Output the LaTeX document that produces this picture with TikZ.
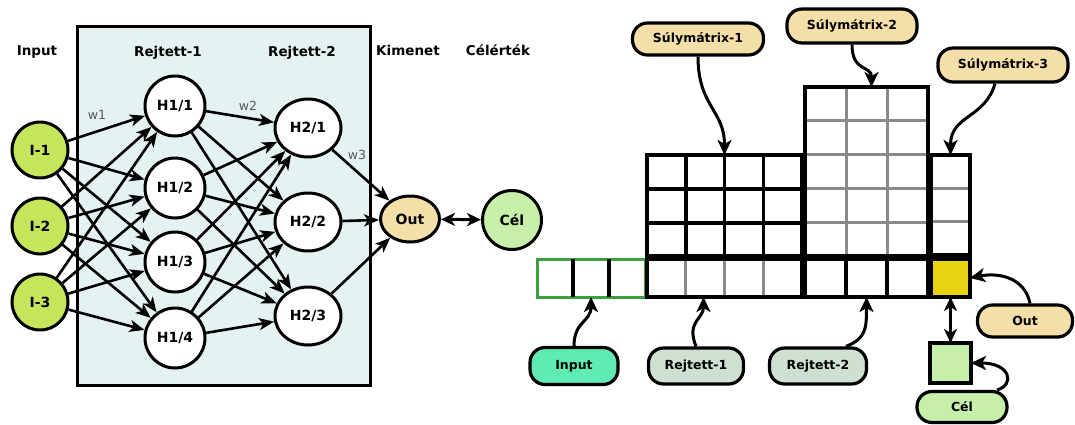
\documentclass[tikz,border=0pt]{standalone}
\usepackage{fontspec}
\setsansfont{DejaVu Sans}
\usetikzlibrary{arrows.meta, calc, shapes.geometric}

\definecolor{inputgreen}{RGB}{197,230,90}
\definecolor{outtan}{RGB}{245,223,168}
\definecolor{celgreen}{RGB}{198,240,170}
\definecolor{hiddenbg}{RGB}{228,242,242}
\definecolor{pillteal}{RGB}{94,235,180}
\definecolor{pillsage}{RGB}{205,224,210}
\definecolor{cellyellow}{RGB}{232,210,20}
\definecolor{gridgray}{RGB}{138,138,138}
\definecolor{stripgreen}{RGB}{60,160,60}

\begin{document}
\begin{tikzpicture}[
  x=1pt, y=-1pt,
  font=\sffamily\bfseries\fontsize{13.5}{15}\selectfont,
  hidbox/.style={draw, line width=3pt, fill=hiddenbg,
                 minimum width=293pt, minimum height=359pt},
  inp/.style={circle, draw, line width=3pt, fill=inputgreen,
              minimum size=56pt, inner sep=0pt, font=\sffamily\bfseries\fontsize{14}{16}\selectfont},
  neuron/.style={circle, draw, line width=3pt, fill=white,
                 minimum size=60pt, inner sep=0pt, font=\sffamily\bfseries\fontsize{14}{16}\selectfont},
  neuron2/.style={ellipse, draw, line width=3pt, fill=white,
                  minimum width=66pt, minimum height=58pt, inner sep=0pt,
                  font=\sffamily\bfseries\fontsize{14}{16}\selectfont},
  outn/.style={ellipse, draw, line width=3pt, fill=outtan,
               minimum width=59pt, minimum height=46pt, inner sep=0pt,
               font=\sffamily\bfseries\fontsize{14}{16}\selectfont},
  celn/.style={circle, draw, line width=3pt, fill=celgreen,
               minimum size=59pt, inner sep=0pt, font=\sffamily\bfseries\fontsize{14}{16}\selectfont},
  hdr/.style={inner sep=0pt},
  wlbl/.style={font=\sffamily\fontsize{12.5}{14}\selectfont, text=black!65, inner sep=0pt},
  pill/.style={draw, line width=3.2pt, rounded corners=15pt, inner sep=0pt,
               font=\sffamily\bfseries\fontsize{12.5}{14}\selectfont},
  cellbox/.style={draw, line width=3.5pt, fill=white, inner sep=0pt, outer sep=0pt},
  arrow/.style={-{Stealth[length=15pt, width=12pt, inset=4pt]}, line width=2.6pt},
  dblarrow/.style={{Stealth[length=14pt, width=13pt, inset=4pt]}-{Stealth[length=14pt, width=13pt, inset=4pt]},
                   line width=3pt},
  curvy/.style={-{Stealth[length=15pt, width=14pt, inset=4pt]}, line width=3pt},
  blackline/.style={line width=3.5pt},
  grayline/.style={line width=3pt, draw=gridgray, shorten <=1.8pt, shorten >=1.8pt}
]
\useasboundingbox (0,0) rectangle (1075,424);

% Network view
\node[hidbox] (hidden) at (223.5,205.5) {};

\node[hdr] (hinput) at (37,52) {Input};
\node[hdr] (hrej1) at (168,53) {Rejtett-1};
\node[hdr] (hrej2) at (302,53) {Rejtett-2};
\node[hdr] (hkim) at (408,50) {Kimenet};
\node[hdr] (hcel) at (498,50) {Célérték};

\node[inp] (i1) at (40,150) {I-1};
\node[inp] (i2) at (40,226) {I-2};
\node[inp] (i3) at (40,302) {I-3};

\node[neuron] (h11) at (175,106) {H1/1};
\node[neuron] (h12) at (175,188) {H1/2};
\node[neuron] (h13) at (175,262) {H1/3};
\node[neuron] (h14) at (175,338) {H1/4};

\node[neuron2] (h21) at (308,128) {H2/1};
\node[neuron2] (h22) at (308,222) {H2/2};
\node[neuron2] (h23) at (308,316) {H2/3};

\node[outn] (out) at (410,219) {Out};
\node[celn] (cel) at (512,220) {Cél};

\foreach \a in {1,2,3}
  \foreach \b in {1,...,4}
    \draw[arrow] (i\a) -- (h1\b);
\foreach \a in {1,...,4}
  \foreach \b in {1,2,3}
    \draw[arrow] (h1\a) -- (h2\b);
\foreach \a in {1,2,3}
  \draw[arrow] (h2\a) -- (out);
\draw[dblarrow] (out) -- (cel);

\node[wlbl] (w1) at (97,115) {w1};
\node[wlbl] (w2) at (248,106) {w2};
\node[wlbl] (w3) at (357,155) {w3};

% Matrix view
\node[cellbox, draw=stripgreen, line width=3pt,
      minimum width=108pt, minimum height=38pt] (invec) at (591,278) {};
\node[cellbox, minimum width=155pt, minimum height=102pt] (m1) at (724.5,206) {};
\node[cellbox, minimum width=155pt, minimum height=40pt] (h1vec) at (724.5,277) {};
\node[cellbox, minimum width=123pt, minimum height=169pt] (m2) at (866.5,171.5) {};
\node[cellbox, minimum width=123pt, minimum height=38pt] (h2vec) at (866.5,278) {};
\node[cellbox, minimum width=39pt, minimum height=100pt] (m3) at (950.5,205) {};
\node[cellbox, fill=cellyellow, minimum width=39pt, minimum height=38pt] (outcell) at (950.5,278) {};
\node[cellbox, fill=celgreen, minimum width=41pt, minimum height=40pt] (celsq) at (950.5,363) {};

\foreach \k in {1,2}
  \draw[blackline] ($(invec.north west)!\k/3!(invec.north east)$)
    -- ($(invec.south west)!\k/3!(invec.south east)$);
\foreach \k in {1,2,3}
  \draw[blackline] ($(m1.north west)!\k/4!(m1.north east)$)
    -- ($(m1.south west)!\k/4!(m1.south east)$);
\foreach \k in {1,2}
  \draw[blackline] ($(m1.north west)!\k/3!(m1.south west)$)
    -- ($(m1.north east)!\k/3!(m1.south east)$);
\foreach \k in {1,2,3}
  \draw[grayline] ($(h1vec.north west)!\k/4!(h1vec.north east)$)
    -- ($(h1vec.south west)!\k/4!(h1vec.south east)$);
\draw[line width=7pt] (m1.south west) -- (m1.south east);
\foreach \k in {1,2}
  \draw[grayline] ($(m2.north west)!\k/3!(m2.north east)$)
    -- ($(m2.south west)!\k/3!(m2.south east)$);
\foreach \k in {1,...,4}
  \draw[grayline] ($(m2.north west)!\k/5!(m2.south west)$)
    -- ($(m2.north east)!\k/5!(m2.south east)$);
\foreach \k in {1,2}
  \draw[blackline] ($(h2vec.north west)!\k/3!(h2vec.north east)$)
    -- ($(h2vec.south west)!\k/3!(h2vec.south east)$);
\foreach \k in {1,2}
  \draw[grayline] ($(m3.north west)!\k/3!(m3.south west)$)
    -- ($(m3.north east)!\k/3!(m3.south east)$);
\draw[line width=5.5pt] ($(m3.north west)+(-1,0)$) -- ($(outcell.south west)+(-1,0)$);

\node[pill, fill=outtan, minimum width=131pt, minimum height=32pt] (sm1) at (698,39) {Súlymátrix-1};
\node[pill, fill=outtan, minimum width=130pt, minimum height=34pt] (sm2) at (852,26) {Súlymátrix-2};
\node[pill, fill=outtan, minimum width=130pt, minimum height=34pt] (sm3) at (1003,65) {Súlymátrix-3};
\node[pill, fill=pillteal, minimum width=88pt, minimum height=37pt] (inpill) at (574,366) {Input};
\node[pill, fill=pillsage, minimum width=95pt, minimum height=36pt] (r1pill) at (696,366) {Rejtett-1};
\node[pill, fill=pillsage, minimum width=97pt, minimum height=36pt] (r2pill) at (818,366) {Rejtett-2};
\node[pill, fill=outtan, minimum width=95pt, minimum height=32pt] (outpill) at (1025,321) {Out};
\node[pill, fill=celgreen, minimum width=90pt, minimum height=31pt] (celpill) at (962,407) {Cél};

\draw[curvy] (sm1.south) .. controls +(0,50) and +(0,-45) .. (m1.north);
\draw[curvy] (sm2.south) .. controls +(0,28) and +(0,-22) .. ($(m2.north)+(5,0)$);
\draw[curvy] ($(sm3.south)+(-8,0)$) .. controls +(-10,35) and +(0,-40) .. (m3.north);
\draw[curvy] (inpill.north) .. controls +(0,-25) and +(0,25) .. (invec.south);
\draw[curvy] (r1pill.north) .. controls +(-10,-25) and +(0,22) .. ($(h1vec.south)+(-21,0)$);
\draw[curvy] ($(r2pill.north)+(28,0)$) .. controls +(20,-8) and +(0,32) .. (h2vec.south);
\draw[curvy] ($(outpill.north)+(5,0)$) .. controls +(-5,-25) and +(30,-6) .. (outcell.east);
\draw[curvy] ($(celpill.north)+(35,0)$) .. controls +(18,-5) and +(40,0) .. (celsq.east);
\draw[dblarrow] (outcell.south) -- (celsq.north);

\end{tikzpicture}
\end{document}
